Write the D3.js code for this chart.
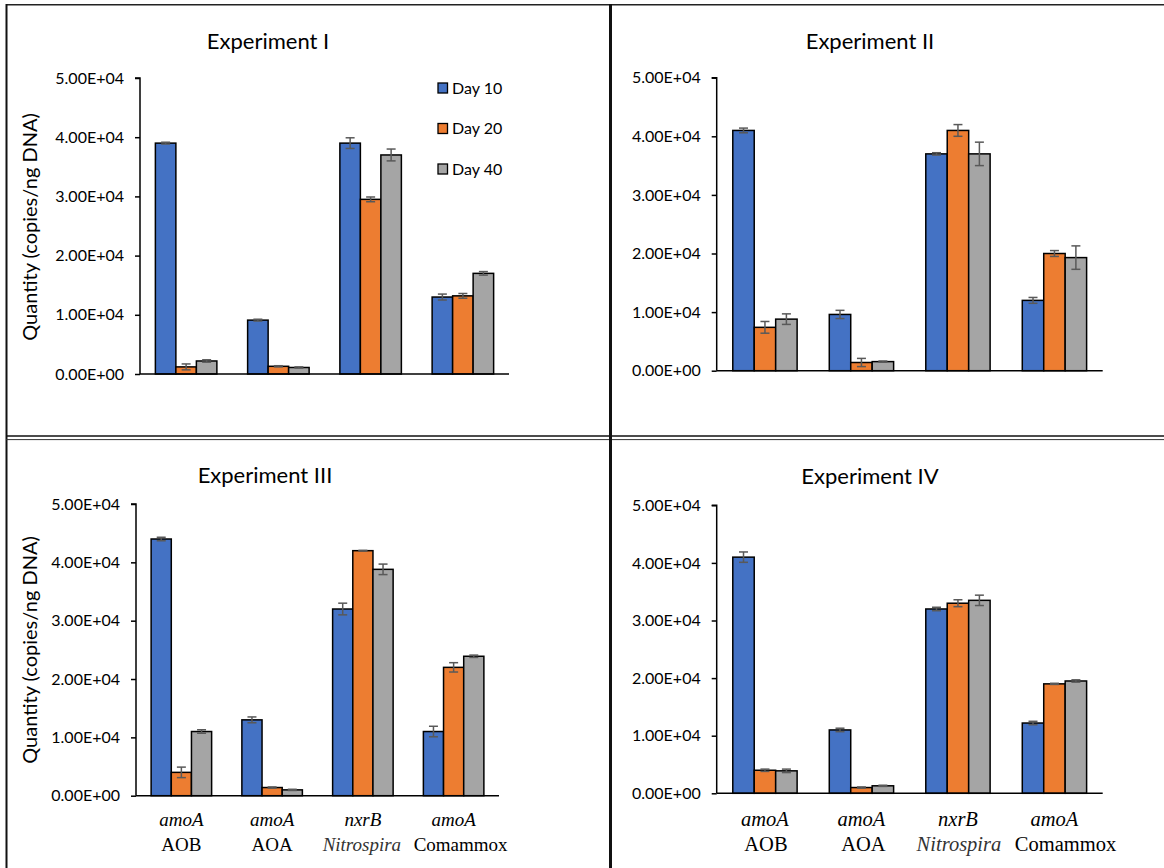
<!DOCTYPE html>
<html>
<head>
<meta charset="utf-8">
<script src="https://cdn.jsdelivr.net/npm/d3@7"></script>
<style>
  html, body { margin: 0; padding: 0; background: #fff; }
  svg { display: block; }
</style>
</head>
<body>
<svg id="fig" width="1164" height="868"></svg>
<script>
// ---- Data -------------------------------------------------------------
const geneNames = ["amoA", "amoA", "nxrB", "amoA"];
const groupNames = ["AOB", "AOA", "Nitrospira", "Comammox"];
const groupItalic = [false, false, true, false];
const days = ["Day 10", "Day 20", "Day 40"];
const dayColors = ["#4472C4", "#ED7D31", "#A5A5A5"];
const experimentTitles = ["Experiment I", "Experiment II", "Experiment III", "Experiment IV"];
const yTicks = [0, 10000, 20000, 30000, 40000, 50000];

// mean copies per ng DNA: rows = gene group, columns = Day 10 / 20 / 40
const expIMeans   = [[39000, 1200, 2200], [9100, 1300, 1100], [39000, 29500, 37000], [13000, 13200, 17000]];
const expIErrors  = [[150, 500, 200], [150, 100, 100], [900, 400, 1000], [500, 400, 300]];
const expIIMeans  = [[41000, 7400, 8800], [9600, 1400, 1550], [37000, 41000, 37000], [12000, 20000, 19300]];
const expIIErrors = [[400, 1000, 900], [700, 700, 100], [200, 1000, 2000], [500, 500, 2000]];
const expIIIMeans  = [[44000, 4000, 11000], [13000, 1400, 1000], [32000, 42000, 38800], [11000, 22000, 23900]];
const expIIIErrors = [[300, 900, 300], [500, 100, 100], [1000, 50, 900], [900, 800, 200]];
const expIVMeans  = [[41000, 4000, 3900], [11000, 1000, 1300], [32000, 33000, 33500], [12200, 19000, 19500]];
const expIVErrors = [[900, 200, 300], [300, 100, 100], [300, 600, 900], [300, 100, 200]];

const allMeans = [expIMeans, expIIMeans, expIIIMeans, expIVMeans];
const allErrors = [expIErrors, expIIErrors, expIIIErrors, expIVErrors];

// ---- Panel layout -----------------------------------------------------
const panels = [
  { left: 140,   right: 509,    top: 78,    bottom: 374,   titleX: 268, titleY: 49,  yTitle: { x: 30, y: 227 }, legend: true,  xLabels: false },
  { left: 716.7, right: 1102.7, top: 77.7,  bottom: 370.7, titleX: 870, titleY: 49,  yTitle: null,               legend: false, xLabels: false },
  { left: 136,   right: 499,    top: 504,   bottom: 795.7, titleX: 265, titleY: 483, yTitle: { x: 30, y: 650 }, legend: false, xLabels: true,
    labelSize: 19, lineTwoShift: [0, 0, -1, 7] },
  { left: 716.7, right: 1102.7, top: 505.3, bottom: 793.3, titleX: 870, titleY: 484, yTitle: null,               legend: false, xLabels: true,
    labelSize: 20.5, lineTwoShift: [1, 2, 1, 11] }
];

const sans = "Lato, 'Open Sans', sans-serif";
const serif = "'Liberation Serif', 'DejaVu Serif', serif";

function sci(d) {
  if (d === 0) return "0.00E+00";
  const e = Math.floor(Math.log10(d));
  const m = d / Math.pow(10, e);
  return m.toFixed(2) + "E+" + String(e).padStart(2, "0");
}

const svg = d3.select("#fig");

// ---- Frame lines around the four panels --------------------------------
const frame = svg.append("g").attr("class", "frame");
frame.append("line").attr("x1", 6).attr("x2", 1164).attr("y1", 4.7).attr("y2", 4.7)
  .attr("stroke", "#222").attr("stroke-width", 1.5);
frame.append("line").attr("x1", 6.5).attr("x2", 6.5).attr("y1", 4).attr("y2", 868)
  .attr("stroke", "#111").attr("stroke-width", 2);
frame.append("line").attr("x1", 6).attr("x2", 1164).attr("y1", 436).attr("y2", 436)
  .attr("stroke", "#111").attr("stroke-width", 1.6);
frame.append("line").attr("x1", 6).attr("x2", 1164).attr("y1", 439.6).attr("y2", 439.6)
  .attr("stroke", "#333").attr("stroke-width", 1);
frame.append("line").attr("x1", 610.5).attr("x2", 610.5).attr("y1", 4).attr("y2", 868)
  .attr("stroke", "#111").attr("stroke-width", 3);

// ---- Panels -----------------------------------------------------------
panels.forEach((p, i) => {
  const means = allMeans[i];
  const errors = allErrors[i];
  const g = svg.append("g").attr("class", "panel");

  const x0 = d3.scaleBand().domain(groupNames).range([p.left, p.right])
    .paddingInner(1 / 3).paddingOuter(1 / 6);
  const x1 = d3.scaleBand().domain(days).range([0, x0.bandwidth()]);
  const y = d3.scaleLinear().domain([0, 50000]).range([p.bottom, p.top]);

  // title
  g.append("text").attr("x", p.titleX).attr("y", p.titleY)
    .attr("text-anchor", "middle").attr("font-family", sans).attr("font-size", 22)
    .attr("fill", "#000").text(experimentTitles[i]);

  // y axis
  const yAxis = d3.axisLeft(y).tickValues(yTicks).tickFormat(sci).tickSize(5).tickPadding(11);
  const ya = g.append("g").attr("transform", `translate(${p.left},0)`).call(yAxis);
  ya.select(".domain").attr("stroke", "#000").attr("stroke-width", 1.5).attr("d", `M-5,${p.top}H0V${p.bottom}`);
  ya.selectAll(".tick line").attr("stroke", "#000").attr("stroke-width", 1.5);
  ya.selectAll(".tick text").attr("font-family", sans).attr("font-size", 16).attr("fill", "#000");

  if (p.yTitle) {
    g.append("text")
      .attr("transform", `translate(${p.yTitle.x},${p.yTitle.y}) rotate(-90)`)
      .attr("text-anchor", "middle").attr("dy", "0.35em")
      .attr("font-family", sans).attr("font-size", 20).attr("fill", "#000")
      .text("Quantity (copies/ng DNA)");
  }

  // bars
  const rows = groupNames.map((name, gi) => ({ name, gi }));
  const grp = g.selectAll("g.group").data(rows).join("g")
    .attr("class", "group")
    .attr("transform", d => `translate(${x0(d.name)},0)`);

  grp.selectAll("rect").data(d => days.map((day, di) => ({ day, di, v: means[d.gi][di] })))
    .join("rect")
    .attr("x", d => x1(d.day))
    .attr("y", d => y(d.v))
    .attr("width", x1.bandwidth())
    .attr("height", d => y(0) - y(d.v))
    .attr("fill", d => dayColors[d.di])
    .attr("stroke", "#000").attr("stroke-width", 1.5);

  // error bars
  const eb = grp.selectAll("g.err")
    .data(d => days.map((day, di) => ({ day, di, v: means[d.gi][di], e: errors[d.gi][di] })))
    .join("g").attr("class", "err")
    .attr("transform", d => `translate(${x1(d.day) + x1.bandwidth() / 2},0)`);
  eb.append("line").attr("x1", 0).attr("x2", 0)
    .attr("y1", d => y(d.v - d.e)).attr("y2", d => y(d.v + d.e))
    .attr("stroke", "#595959").attr("stroke-width", 1.5);
  eb.append("line").attr("x1", -4.5).attr("x2", 4.5)
    .attr("y1", d => y(d.v + d.e)).attr("y2", d => y(d.v + d.e))
    .attr("stroke", "#595959").attr("stroke-width", 1.5);
  eb.append("line").attr("x1", -4.5).attr("x2", 4.5)
    .attr("y1", d => y(d.v - d.e)).attr("y2", d => y(d.v - d.e))
    .attr("stroke", "#595959").attr("stroke-width", 1.5);

  // x axis baseline
  g.append("line").attr("x1", p.left).attr("x2", p.right)
    .attr("y1", y(0)).attr("y2", y(0))
    .attr("stroke", "#000").attr("stroke-width", 1.5);

  // category labels (gene on the first line, organism group on the second)
  if (p.xLabels) {
    const lab = g.selectAll("g.xlab").data(rows).join("g").attr("class", "xlab")
      .attr("transform", d => `translate(${x0(d.name) + x0.bandwidth() / 2},0)`);
    lab.append("text").attr("y", 826).attr("text-anchor", "middle")
      .attr("font-family", serif).attr("font-size", p.labelSize).attr("font-style", "italic")
      .attr("fill", "#000").text(d => geneNames[d.gi]);
    lab.append("text").attr("x", d => p.lineTwoShift[d.gi]).attr("y", 851).attr("text-anchor", "middle")
      .attr("font-family", serif).attr("font-size", p.labelSize)
      .attr("font-style", d => groupItalic[d.gi] ? "italic" : "normal")
      .attr("fill", d => groupItalic[d.gi] ? "#333" : "#000")
      .text(d => d.name);
  }

  // legend
  if (p.legend) {
    const lg = g.selectAll("g.legend").data(days).join("g").attr("class", "legend")
      .attr("transform", (d, k) => `translate(438,${88 + k * 40.5})`);
    lg.append("rect").attr("x", 0).attr("y", -5).attr("width", 9.5).attr("height", 10)
      .attr("fill", (d, k) => dayColors[k]).attr("stroke", "#000").attr("stroke-width", 1.3);
    lg.append("text").attr("x", 14).attr("y", 0).attr("dy", "0.35em")
      .attr("font-family", sans).attr("font-size", 16).attr("fill", "#000").text(d => d);
  }
});
</script>
</body>
</html>
